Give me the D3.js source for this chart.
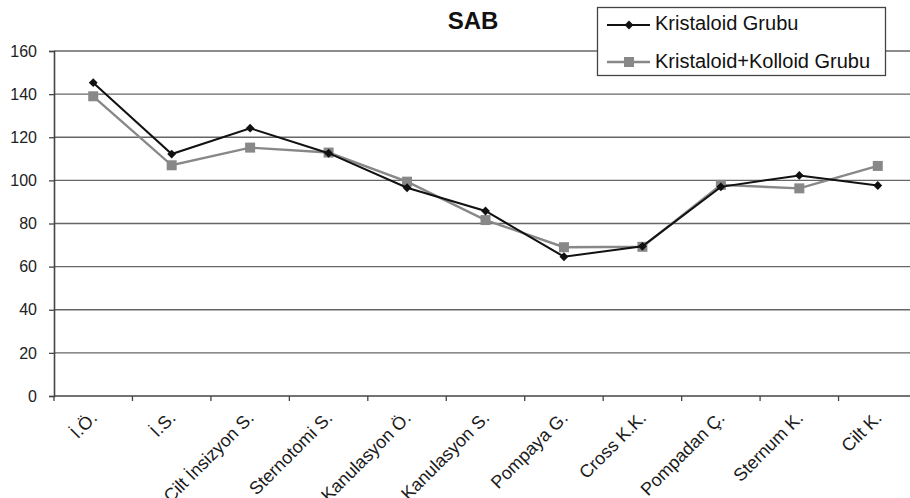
<!DOCTYPE html>
<html>
<head>
<meta charset="utf-8">
<script src="https://cdn.jsdelivr.net/npm/d3@7/dist/d3.min.js"></script>
<style>
  body { margin: 0; background: #fff; }
  svg { display: block; font-family: "Liberation Sans", Arial, sans-serif; }
</style>
</head>
<body>
<svg id="chart" width="910" height="498"></svg>
<script>
const categories = ["İ.Ö.", "İ.S.", "Cilt İnsizyon S.", "Sternotomi S.", "Kanulasyon Ö.",
  "Kanulasyon S.", "Pompaya G.", "Cross K.K.", "Pompadan Ç.", "Sternum K.", "Cilt K."];
const kristaloid = [145.3, 112.2, 124.2, 112.6, 96.6, 85.8, 64.6, 69.4, 97.0, 102.3, 97.6];
const kolloid = [139.0, 107.0, 115.2, 112.9, 99.4, 81.6, 69.0, 69.2, 97.9, 96.3, 106.7];
const yTicks = [0, 20, 40, 60, 80, 100, 120, 140, 160];
const seriesNames = ["Kristaloid Grubu", "Kristaloid+Kolloid Grubu"];

const svg = d3.select("#chart");
const plotLeft = 54, plotRight = 917, plotTop = 51, plotBottom = 396;

const x = d3.scaleBand().domain(categories).range([plotLeft, plotRight]);
const y = d3.scaleLinear().domain([0, 160]).range([plotBottom, plotTop]);

// horizontal gridlines
svg.append("g").selectAll("line").data(yTicks.filter(d => d > 0)).join("line")
  .attr("x1", plotLeft).attr("x2", plotRight)
  .attr("y1", d => y(d)).attr("y2", d => y(d))
  .attr("stroke", "#666").attr("stroke-width", 1.3);

// y axis
const yAxis = svg.append("g").attr("transform", `translate(${plotLeft},0)`)
  .call(d3.axisLeft(y).tickValues(yTicks).tickSize(5).tickPadding(12));
yAxis.select(".domain").attr("stroke", "#444").attr("stroke-width", 1.6);
yAxis.selectAll(".tick line").attr("stroke", "#444").attr("stroke-width", 1.3);
yAxis.selectAll("text").attr("font-size", 16).attr("fill", "#222")
  .attr("font-family", "'Liberation Sans', Arial, sans-serif");

// x axis: ticks at category boundaries
const xAxis = svg.append("g").attr("transform", `translate(0,${plotBottom})`);
xAxis.append("line").attr("x1", plotLeft).attr("x2", plotRight)
  .attr("stroke", "#444").attr("stroke-width", 1.6);
xAxis.selectAll("line.tk").data(categories).join("line").attr("class", "tk")
  .attr("x1", d => x(d)).attr("x2", d => x(d))
  .attr("y1", 0).attr("y2", 5).attr("stroke", "#444").attr("stroke-width", 1.3);
xAxis.selectAll("text").data(categories).join("text")
  .attr("transform", d => `translate(${x(d) + x.bandwidth() / 2 + 5},${23}) rotate(-45)`)
  .attr("text-anchor", "end")
  .attr("font-size", 18).attr("fill", "#1a1a1a")
  .text(d => d);

const cx = d => x(d) + x.bandwidth() / 2;
const line = d3.line().x((v, i) => cx(categories[i])).y(v => y(v));

// gray series
svg.append("path").datum(kolloid).attr("d", line)
  .attr("fill", "none").attr("stroke", "#888").attr("stroke-width", 2.4);
svg.append("g").selectAll("rect").data(kolloid).join("rect")
  .attr("x", (v, i) => cx(categories[i]) - 5).attr("y", v => y(v) - 5)
  .attr("width", 10).attr("height", 10).attr("fill", "#888");

// black series
svg.append("path").datum(kristaloid).attr("d", line)
  .attr("fill", "none").attr("stroke", "#111").attr("stroke-width", 2);
const diamond = d3.symbol().type(d3.symbolDiamond2).size(50);
svg.append("g").selectAll("path").data(kristaloid).join("path")
  .attr("transform", (v, i) => `translate(${cx(categories[i])},${y(v)})`)
  .attr("d", diamond).attr("fill", "#111");

// title
svg.append("text").attr("x", 473).attr("y", 29).attr("text-anchor", "middle")
  .attr("font-size", 24).attr("font-weight", "bold").attr("fill", "#111").text("SAB");

// legend
const lg = svg.append("g");
lg.append("rect").attr("x", 597.5).attr("y", 7.5).attr("width", 288).attr("height", 68)
  .attr("fill", "#fff").attr("stroke", "#444").attr("stroke-width", 1.3);
const rows = [25, 62];
lg.append("line").attr("x1", 607).attr("x2", 650).attr("y1", rows[0]).attr("y2", rows[0])
  .attr("stroke", "#111").attr("stroke-width", 2);
lg.append("path").attr("transform", `translate(629,${rows[0]})`)
  .attr("d", diamond).attr("fill", "#111");
lg.append("line").attr("x1", 607).attr("x2", 650).attr("y1", rows[1]).attr("y2", rows[1])
  .attr("stroke", "#888").attr("stroke-width", 2.4);
lg.append("rect").attr("x", 624).attr("y", rows[1] - 5).attr("width", 10).attr("height", 10)
  .attr("fill", "#888");
lg.selectAll("text.lab").data(seriesNames).join("text").attr("class", "lab")
  .attr("x", 655).attr("y", (d, i) => [30, 68][i])
  .attr("font-size", 20).attr("fill", "#111").text(d => d);
</script>
</body>
</html>
